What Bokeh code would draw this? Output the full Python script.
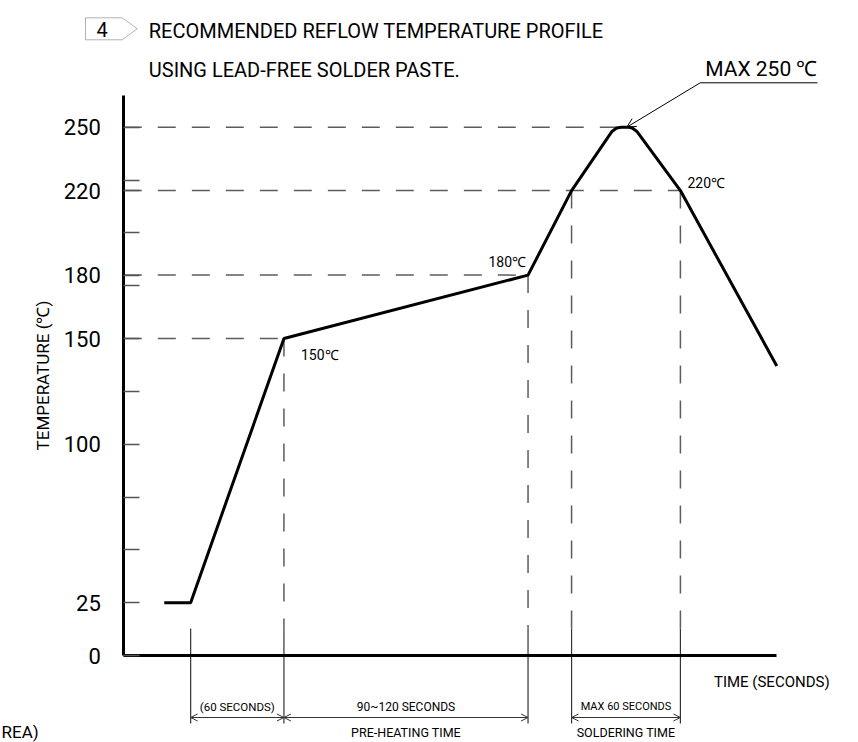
from bokeh.plotting import figure
from bokeh.models import (Range1d, LinearAxis, FixedTicker, Label, Arrow,
                          OpenHead, PolyAnnotation)
from bokeh.embed import file_html
from bokeh.resources import INLINE

# ---------------- data ----------------
profile_time = [26, 43, 103, 260, 288, 314, 317, 320, 325, 327, 330, 358, 420]
profile_temp = [25, 25, 150, 180, 220, 248, 249.6, 250, 250, 249.6, 248, 220, 137]

y_ticks = [0, 25, 50, 75, 100, 125, 150, 175, 180, 200, 220, 225, 250]
y_tick_labels = ["0", "25", "", "", "100", "", "150", "", "180", "", "220", "", "250"]

ref_levels = [150, 180, 220, 250]          # horizontal dashed guides
ref_level_end = [103, 260, 358, 317]

drop_time = [103, 260, 288, 358]           # vertical dashed guides
drop_temp = [150, 180, 220, 220]

ext_time = [43, 103, 260, 288, 358]        # dimension extension lines

dim_start = [43, 103, 288]
dim_end = [103, 260, 358]
dim_labels = ["(60 SECONDS)", "90~120 SECONDS", "MAX 60 SECONDS"]

phase_start = [103, 288]
phase_end = [260, 358]
phase_labels = ["PRE-HEATING TIME", "SOLDERING TIME"]

point_labels = ["150℃", "180℃", "220℃"]
point_time = [103, 260, 358]
point_temp = [150, 180, 220]

peak_label = "MAX 250 ℃"
title_lines = ["RECOMMENDED REFLOW TEMPERATURE PROFILE",
               "USING LEAD-FREE SOLDER PASTE."]
note_number = "4"
x_title = "TIME (SECONDS)"
y_title = "TEMPERATURE (℃)"
fragment_text = "REA)"
x_max = 420
y_axis_top = 265

# ---------------- layout ----------------
W, H = 858, 742
FONT = "Roboto"
ox, oy = 123.3, 655.0                  # canvas position of the origin
pxs = 653.0 / x_max                    # px per second
pxd = 528.3 / 250.0                    # px per degree

p = figure(width=W, height=H, output_backend="svg", toolbar_location=None,
           x_range=Range1d(-ox / pxs, (W - ox) / pxs),
           y_range=Range1d(-(H - oy) / pxd, oy / pxd),
           x_axis_location=None, y_axis_location=None,
           min_border=0, outline_line_color=None,
           background_fill_color="white", border_fill_color="white")
p.grid.visible = False

yaxis = LinearAxis(fixed_location=0, bounds=(0, y_axis_top),
                   ticker=FixedTicker(ticks=y_ticks),
                   major_label_overrides={t: l for t, l in zip(y_ticks, y_tick_labels)},
                   axis_line_width=3, axis_line_color="black",
                   major_tick_in=16, major_tick_out=0,
                   major_tick_line_color="#555555", major_tick_line_width=1.5,
                   minor_tick_in=0, minor_tick_out=0,
                   major_label_standoff=23,
                   major_label_text_font=FONT, major_label_text_font_size="22px",
                   major_label_text_color="black",
                   axis_label=y_title, axis_label_standoff=7,
                   axis_label_text_font=FONT, axis_label_text_font_size="17px",
                   axis_label_text_font_style="normal", axis_label_text_color="black")
p.add_layout(yaxis, "left")

xaxis = LinearAxis(fixed_location=0, bounds=(0, x_max),
                   ticker=FixedTicker(ticks=[]),
                   axis_line_width=3, axis_line_color="black",
                   major_tick_in=0, major_tick_out=0,
                   minor_tick_in=0, minor_tick_out=0,
                   major_label_text_font_size="0px")
p.add_layout(xaxis, "below")

GRAY = "#5c5c5c"
DARK = "#333333"

# dashed guides
p.segment(x0=[0] * len(ref_levels), y0=ref_levels, x1=ref_level_end, y1=ref_levels,
          line_color=GRAY, line_width=1.5, line_dash="18 16")
ext_top = 27 / pxd
ext_bottom = -68 / pxd
p.segment(x0=drop_time, y0=drop_temp, x1=drop_time, y1=[ext_top] * len(drop_time),
          line_color=GRAY, line_width=1.5, line_dash="18 17")
p.segment(x0=ext_time, y0=[ext_top] * len(ext_time), x1=ext_time,
          y1=[ext_bottom] * len(ext_time), line_color=DARK, line_width=1.2)

# profile
p.line(profile_time, profile_temp, line_color="black", line_width=3)

# dimension lines
dim_y = -62 / pxd
dim_sizes = ["11.5px", "12px", "11px"]
for s, e, lab, fs in zip(dim_start, dim_end, dim_labels, dim_sizes):
    p.add_layout(Arrow(start=OpenHead(size=7, line_width=1, line_color=DARK),
                       end=OpenHead(size=7, line_width=1, line_color=DARK),
                       x_start=s, y_start=dim_y, x_end=e, y_end=dim_y,
                       line_width=1, line_color=DARK))
    p.add_layout(Label(x=(s + e) / 2, y=dim_y, y_offset=11, text=lab,
                       text_align="center", text_baseline="middle",
                       text_font=FONT, text_font_size=fs, text_color="black"))
for s, e, lab in zip(phase_start, phase_end, phase_labels):
    p.add_layout(Label(x=(s + e) / 2, y=dim_y, y_offset=-15, text=lab,
                       text_align="center", text_baseline="middle",
                       text_font=FONT, text_font_size="12.5px", text_color="black"))

# point labels
offsets = [(17, -16, "left"), (-2, 13, "right"), (7, 8, "left")]
for lab, t, T, (dx, dy, al) in zip(point_labels, point_time, point_temp, offsets):
    p.add_layout(Label(x=t, y=T, x_offset=dx, y_offset=dy, text=lab,
                       text_align=al, text_baseline="middle",
                       text_font=FONT, text_font_size="14px", text_color="black"))

# peak leader
peak_T = max(profile_temp)
peak_ts = [t for t, T in zip(profile_time, profile_temp) if T == peak_T]
peak_t = sum(peak_ts) / len(peak_ts)
lead_t = peak_t + 75 / pxs
lead_T = peak_T + 44.4 / pxd
p.add_layout(Arrow(end=OpenHead(size=9, line_width=1, line_color="black"),
                   x_start=lead_t, y_start=lead_T, x_end=peak_t + 1, y_end=peak_T,
                   line_width=1, line_color="black"))
p.segment(x0=[lead_t], y0=[lead_T], x1=[lead_t + 117.3 / pxs], y1=[lead_T],
          line_color="black", line_width=1)
p.add_layout(Label(x=lead_t, y=lead_T, x_offset=5, y_offset=14, text=peak_label,
                   text_align="left", text_baseline="middle",
                   text_font=FONT, text_font_size="21px", text_color="black"))

# axis title (x)
p.add_layout(Label(x=x_max, y=0, x_offset=-5, y_offset=-26.6, text=x_title,
                   text_align="center", text_baseline="middle",
                   text_font=FONT, text_font_size="15px", text_color="black"))

# header
p.add_layout(PolyAnnotation(xs=[85, 121.7, 136.7, 121.7, 85],
                            ys=[H - 17.3, H - 17.3, H - 28.3, H - 39.3, H - 39.3],
                            xs_units="screen", ys_units="screen",
                            fill_alpha=0, line_color="black", line_width=1))
p.add_layout(Label(x=101.7, y=H - 28.5, x_units="screen", y_units="screen",
                   text=note_number, text_align="center", text_baseline="middle",
                   text_font=FONT, text_font_size="20px", text_color="black"))
for i, line in enumerate(title_lines):
    p.add_layout(Label(x=148.3, y=H - 30.5 - 39 * i, x_units="screen", y_units="screen",
                       text=line, text_align="left", text_baseline="middle",
                       text_font=FONT, text_font_size="20px", text_color="black"))

# cropped fragment at the lower left
p.add_layout(Label(x=1, y=H - 731, x_units="screen", y_units="screen", text=fragment_text,
                   text_align="left", text_baseline="middle",
                   text_font=FONT, text_font_size="17px", text_color="black"))

open("out.html", "w").write(file_html(p, INLINE))
